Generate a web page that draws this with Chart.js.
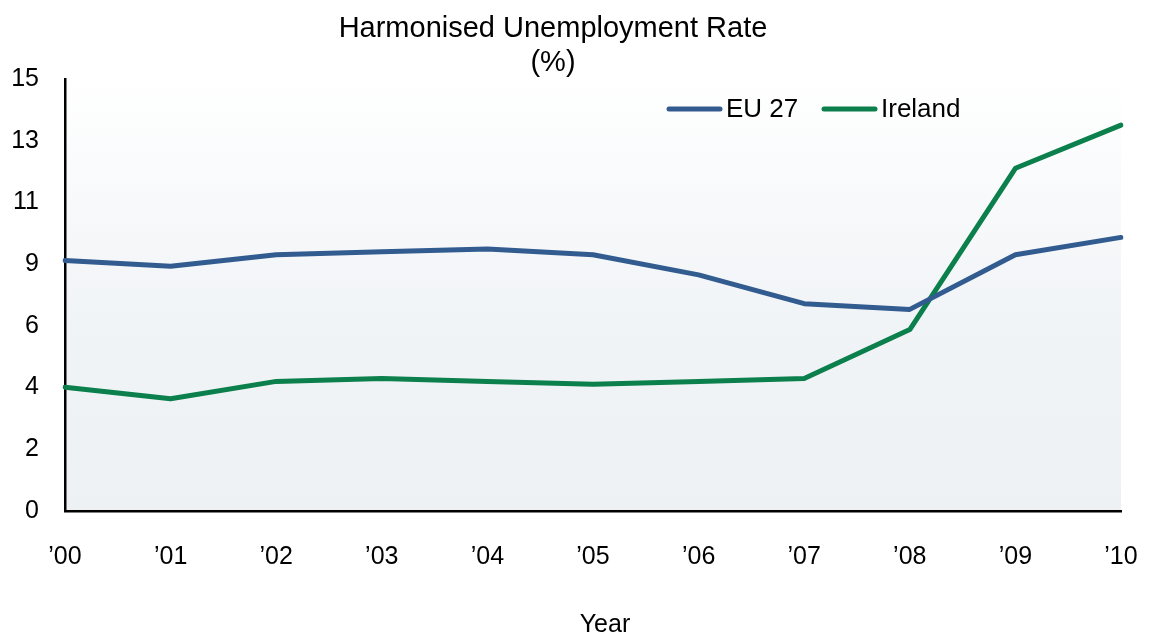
<!DOCTYPE html>
<html>
<head>
<meta charset="utf-8">
<script src="https://cdn.jsdelivr.net/npm/chart.js@4.4.1/dist/chart.umd.min.js"></script>
<style>
  html, body { margin: 0; padding: 0; background: #ffffff; }
  #wrap { width: 1154px; height: 636px; position: relative; }
</style>
</head>
<body>
<div id="wrap"><canvas id="chart" width="1154" height="636"></canvas></div>
<script>
// Harmonised unemployment rate, 2000-2010 (%)
const years = ["\u201900", "\u201901", "\u201902", "\u201903", "\u201904", "\u201905", "\u201906", "\u201907", "\u201908", "\u201909", "\u201910"];
const eu27 = [8.7, 8.5, 8.9, 9.0, 9.1, 8.9, 8.2, 7.2, 7.0, 8.9, 9.5];
const ireland = [4.3, 3.9, 4.5, 4.6, 4.5, 4.4, 4.5, 4.6, 6.3, 11.9, 13.4];
const yTickLabels = ["0", "2", "4", "6", "9", "11", "13", "15"];
const yMax = 15;

const titleLines = ["Harmonised Unemployment Rate", "(%)"];
const xTitle = "Year";

const FONT = "'Liberation Sans', Arial, sans-serif";

// Soft vertical wash behind the plot area
const plotBackground = {
  id: 'plotBackground',
  beforeDraw(chart) {
    const { ctx, chartArea: a } = chart;
    const g = ctx.createLinearGradient(0, a.top, 0, a.bottom);
    g.addColorStop(0, '#ffffff');
    g.addColorStop(0.55, '#f1f4f7');
    g.addColorStop(1, '#edf1f4');
    ctx.save();
    ctx.fillStyle = g;
    ctx.fillRect(a.left, a.top, a.right - a.left, a.bottom - a.top);
    ctx.restore();
  }
};

// Two-line heading, inline legend and axis caption
const annotations = {
  id: 'annotations',
  afterDraw(chart) {
    const { ctx } = chart;
    ctx.save();
    ctx.fillStyle = '#000000';
    ctx.textAlign = 'center';
    ctx.textBaseline = 'alphabetic';
    ctx.font = '29px ' + FONT;
    ctx.fillText(titleLines[0], 553, 37);
    ctx.fillText(titleLines[1], 553, 71);

    ctx.font = '25px ' + FONT;
    ctx.fillText(xTitle, 605, 632);

    // legend entries
    const entries = [
      { x: 669, ds: chart.data.datasets[0] },
      { x: 824, ds: chart.data.datasets[1] }
    ];
    const ly = 109;
    ctx.font = '26px ' + FONT;
    ctx.textAlign = 'left';
    ctx.textBaseline = 'middle';
    entries.forEach(e => {
      ctx.strokeStyle = e.ds.borderColor;
      ctx.lineWidth = 5;
      ctx.lineCap = 'round';
      ctx.beginPath();
      ctx.moveTo(e.x, ly);
      ctx.lineTo(e.x + 51, ly);
      ctx.stroke();
      ctx.fillStyle = '#000000';
      ctx.fillText(e.ds.label, e.x + 57, ly + 1);
    });
    ctx.restore();
  }
};

new Chart(document.getElementById('chart'), {
  type: 'line',
  data: {
    labels: years,
    datasets: [
      {
        label: 'EU 27',
        data: eu27,
        borderColor: '#325b8f',
        backgroundColor: '#325b8f',
        borderWidth: 5,
        pointRadius: 0,
        tension: 0,
        borderCapStyle: 'round',
        borderJoinStyle: 'round'
      },
      {
        label: 'Ireland',
        data: ireland,
        borderColor: '#0b7f4c',
        backgroundColor: '#0b7f4c',
        borderWidth: 5,
        pointRadius: 0,
        tension: 0,
        borderCapStyle: 'round',
        borderJoinStyle: 'round'
      }
    ]
  },
  options: {
    responsive: false,
    animation: false,
    devicePixelRatio: 1,
    layout: { padding: { top: 79, right: 33, left: 0, bottom: 0 } },
    plugins: {
      legend: { display: false },
      title: { display: false },
      tooltip: { enabled: false }
    },
    scales: {
      x: {
        offset: false,
        grid: { display: false },
        border: { display: true, color: '#000000', width: 2.5 },
        ticks: {
          color: '#000000',
          font: { family: FONT, size: 25 },
          padding: 23,
          maxRotation: 0,
          autoSkip: false
        },
        afterFit(scale) {
          scale.height = 125;
          scale.paddingLeft = 0;
          scale.paddingRight = 0;
        }
      },
      y: {
        min: 0,
        max: yMax,
        grid: { display: false },
        border: { display: true, color: '#000000', width: 2.5 },
        afterBuildTicks(scale) {
          scale.ticks = yTickLabels.map((_, i) => ({ value: i * yMax / (yTickLabels.length - 1) }));
        },
        ticks: {
          color: '#000000',
          font: { family: FONT, size: 25 },
          padding: 18,
          callback(value, index) { return yTickLabels[index]; }
        },
        afterFit(scale) {
          scale.width = 65;
          scale.paddingTop = 0;
          scale.paddingBottom = 0;
        }
      }
    }
  },
  plugins: [plotBackground, annotations]
});
</script>
</body>
</html>
